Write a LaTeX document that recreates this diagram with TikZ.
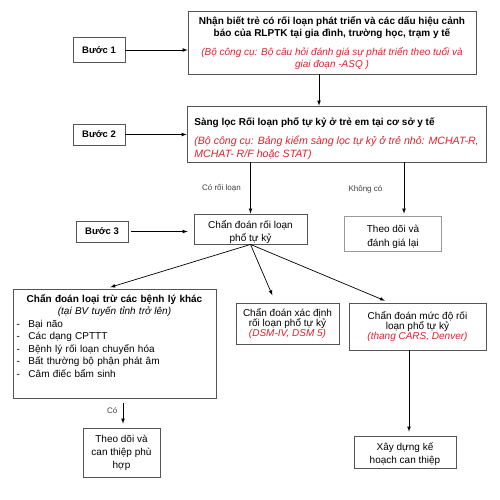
\documentclass[tikz,border=0pt]{standalone}
\usepackage{fontspec}
\setmainfont{Liberation Sans}
\usetikzlibrary{arrows}

\definecolor{toolred}{RGB}{222,34,44}
\definecolor{boxgray}{RGB}{85,85,85}

\tikzset{
	box/.style={draw=boxgray,line width=.8pt,inner sep=0pt,font=\fontsize{10}{13}\selectfont},
	buoc/.style={box,minimum width=52pt,font=\fontsize{9.5}{11}\selectfont\bfseries},
	arr/.style={-latex,line width=.7pt},
	lbl/.style={font=\fontsize{8}{9}\selectfont,text=black!75}
}

\begin{document}
\begin{tikzpicture}[x=1pt,y=-1pt]
	\useasboundingbox[fill=white] (0,0) rectangle (500,499);
	
	% buoc
	\node[buoc,minimum height=25pt] (buoc1) at (99,50) {Bước 1};
	\node[buoc,minimum height=21pt] (buoc2) at (99,134.5) {Bước 2};
	\node[buoc,minimum height=21pt] (buoc3) at (102,231.5) {Bước 3};
	
	% main steps
	\node[box,minimum width=288pt,minimum height=63pt,align=center,font=\fontsize{10}{12}\selectfont] (nhanbiet) at (332,42.5)
		{\textbf{Nhận biết trẻ có rối loạn phát triển và các dấu hiệu cảnh}\\
		 \textbf{báo của RLPTK tại gia đình, trường học, trạm y tế}\\[7pt]
		 {\color{toolred}\itshape (Bộ công cụ: Bộ câu hỏi đánh giá sự phát triển theo tuổi và}\\
		 {\color{toolred}\itshape giai đoạn -ASQ )}};
	\node[box,minimum width=299pt,minimum height=56pt,align=left] (sangloc) at (336.5,134)
		{\rule{0pt}{17pt}\textbf{Sàng lọc Rối loạn phổ tự kỷ ở trẻ em tại cơ sở y tế}\\[6pt]
		 {\fontsize{10.6}{13}\selectfont\color{toolred}\itshape (Bộ công cụ: Bảng kiểm sàng lọc tự kỷ ở trẻ nhỏ: MCHAT-R,}\\
		 {\fontsize{10.6}{13}\selectfont\color{toolred}\itshape MCHAT- R/F hoặc STAT)}};
	
	\node[box,minimum width=113pt,minimum height=28pt,align=center] (chan) at (250.5,229)
		{\rule{0pt}{15pt}Chẩn đoán rối loạn\\phổ tự kỷ};
	\node[box,draw=gray!80,line width=1.8pt,minimum width=97pt,minimum height=35pt,align=center,font=\fontsize{10}{14}\selectfont] (theodoi) at (393,234)
		{\rule{0pt}{13pt}Theo dõi và\\đánh giá lại};
	
	% diagnosis row
	\node[box,minimum width=203pt,minimum height=109pt,text width=196pt,align=left,anchor=north,font=\fontsize{10}{12.5}\selectfont] (loaitru) at (114.5,289)
		{{\centering\textbf{Chẩn đoán loại trừ các bệnh lý khác}\\
		 \textit{(tại BV tuyến tỉnh trở lên)}\par}
		 \makebox[12pt][l]{-}Bại não\\
		 \makebox[12pt][l]{-}Các dạng CPTTT\\
		 \makebox[12pt][l]{-}Bệnh lý rối loạn chuyển hóa\\
		 \makebox[12pt][l]{-}Bất thường bộ phận phát âm\\
		 \makebox[12pt][l]{-}Câm điếc bẩm sinh\rule[-16pt]{0pt}{16pt}};
	\node[box,minimum width=103pt,minimum height=41pt,align=center,font=\fontsize{10}{9}\selectfont] (xacdinh) at (287.5,323.5)
		{Chẩn đoán xác định\\rối loạn phổ tự kỷ\\{\color{toolred}\itshape (DSM-IV, DSM 5)}};
	\node[box,minimum width=137pt,minimum height=47pt,align=center,font=\fontsize{10}{9}\selectfont] (mucdo) at (417.5,326.5)
		{Chẩn đoán mức độ rối\\loạn phổ tự kỷ\\{\color{toolred}\itshape (thang CARS, Denver)}};
	
	% last row
	\node[box,minimum width=77pt,minimum height=49pt,align=center] (canthiep) at (121.5,452.5)
		{Theo dõi và\\can thiệp phù\\hợp};
	\node[box,minimum width=102pt,minimum height=32pt,align=center] (xaydung) at (405,452)
		{\rule{0pt}{12pt}Xây dựng kế\\hoạch can thiệp};
	
	% arrows
	\draw[arr] (buoc1.east) -- (buoc1.east -| nhanbiet.west);
	\draw[arr] (buoc2.east) -- (buoc2.east -| sangloc.west);
	\draw[arr,shorten <=3pt,shorten >=6pt] (buoc3.east) -- (buoc3.east -| chan.west);
	
	\draw[arr] ([xshift=-13pt]nhanbiet.south) -- ([xshift=-17.5pt]sangloc.north);
	\draw[arr] (sangloc.south -| chan.north) -- node[lbl,left=6pt] {Có rối loạn} (chan.north);
	\draw[arr,shorten >=2pt] ([xshift=11pt]sangloc.south -| theodoi.north) -- node[lbl,left=18pt] {Không có} ([xshift=11pt]theodoi.north);
	
	\draw[arr,shorten >=6pt] (chan.south) -- ([xshift=-10pt]loaitru.north);
	\draw[arr,shorten >=8pt] (chan.south) -- ([xshift=-12pt]xacdinh.north);
	\draw[arr,shorten >=5pt] (chan.south) -- ([xshift=-28pt]mucdo.north);
	
	\draw[arr,shorten <=4pt,shorten >=4pt] ([xshift=1.5pt]loaitru.south -| canthiep.north) -- node[lbl,left=2pt,pos=.4] {Có} ([xshift=1.5pt]canthiep.north);
	\draw[arr,shorten >=4pt] ([xshift=-8.5pt]mucdo.south) -- ([xshift=-8.5pt]mucdo.south |- xaydung.north);
\end{tikzpicture}
\end{document}
